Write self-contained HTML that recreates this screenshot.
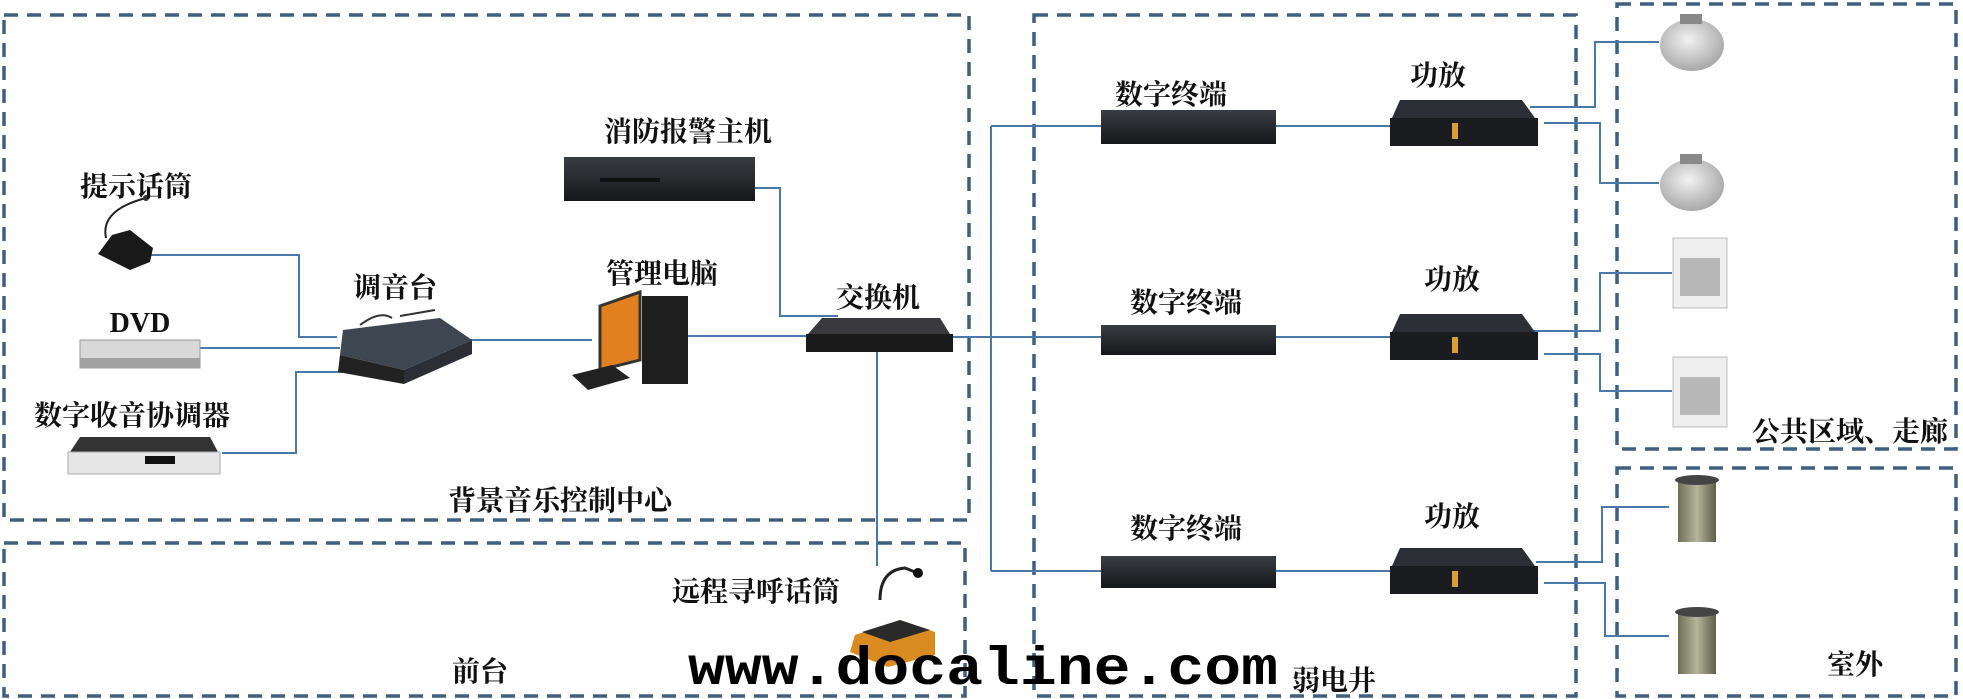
<!DOCTYPE html>
<html><head><meta charset="utf-8">
<style>
html,body{margin:0;padding:0;background:#fff;}
body{width:1963px;height:699px;overflow:hidden;position:relative;}
svg{position:absolute;left:0;top:0;}
.t{font-family:"Liberation Serif","Noto Serif CJK SC",serif;font-weight:bold;font-size:28px;fill:#111;}
.wm{font-family:"Liberation Mono","DejaVu Sans Mono",monospace;font-weight:bold;font-size:54px;fill:#000;}
</style></head><body>
<svg width="1963" height="699" viewBox="0 0 1963 699">
<defs>
<linearGradient id="rack" x1="0" y1="0" x2="0" y2="1"><stop offset="0" stop-color="#3a3d42"/><stop offset="1" stop-color="#15171a"/></linearGradient>
<radialGradient id="ceil" cx="0.45" cy="0.4" r="0.6"><stop offset="0" stop-color="#f2f2f2"/><stop offset="1" stop-color="#a8a8a8"/></radialGradient>
<linearGradient id="col" x1="0" y1="0" x2="1" y2="0"><stop offset="0" stop-color="#6f6f58"/><stop offset="0.5" stop-color="#b4b49a"/><stop offset="1" stop-color="#5e5e4a"/></linearGradient>
</defs>
<g fill="none" stroke="#3f5f7f" stroke-width="3.5" stroke-dasharray="14,9">
<rect x="4" y="15" width="965" height="505"/>
<rect x="4" y="543" width="961" height="153"/>
<rect x="1034" y="15" width="542" height="681"/>
<rect x="1617" y="4" width="339" height="445"/>
<rect x="1617" y="468" width="339" height="228"/>
</g>
<g fill="none" stroke="#4a78a8" stroke-width="2">
<polyline points="150,255 299,255 299,337 337,337"/>
<polyline points="200,348 340,348"/>
<polyline points="222,453 296,453 296,372 370,372"/>
<polyline points="470,340 592,340"/>
<polyline points="688,336 811,336"/>
<polyline points="755,188 780,188 780,316 838,316"/>
<polyline points="948,337 991,337"/>
<polyline points="991,126 991,571"/>
<polyline points="991,126 1392,126"/>
<polyline points="991,337 1392,337"/>
<polyline points="991,571 1392,571"/>
<polyline points="877,352 877,566"/>
<polyline points="1530,107 1595,107 1595,42 1659,42"/>
<polyline points="1544,123 1600,123 1600,183 1659,183"/>
<polyline points="1530,331 1600,331 1600,273 1672,273"/>
<polyline points="1544,354 1600,354 1600,391 1672,391"/>
<polyline points="1536,562 1602,562 1602,507 1669,507"/>
<polyline points="1544,583 1605,583 1605,636 1669,636"/>
</g>
<path d="M112,235 L130,230 L153,248 L150,262 L130,270 L98,254 Z" fill="#1a1a1a"/>
<path d="M106,238 Q100,210 146,198" stroke="#222" stroke-width="2" fill="none"/>
<circle cx="146" cy="198" r="3" fill="#333"/>
<rect x="80" y="340" width="120" height="28" fill="#d8d8d8" stroke="#999"/>
<rect x="80" y="358" width="120" height="10" fill="#a0a0a0"/>
<polygon points="80,437 210,437 218,452 70,452" fill="#333"/>
<rect x="68" y="452" width="152" height="22" fill="#e6e6e6" stroke="#aaa"/>
<rect x="145" y="456" width="30" height="8" fill="#111"/>
<polygon points="343,330 440,318 472,340 404,370 340,355" fill="#3e4652"/>
<polygon points="340,355 404,370 404,384 338,372" fill="#222"/>
<polygon points="404,370 472,340 472,354 404,384" fill="#2b2f35"/>
<path d="M360,325 Q380,310 392,318 M400,316 L435,310" stroke="#333" stroke-width="2" fill="none"/>
<polygon points="600,306 640,292 640,360 600,370" fill="#e0801e" stroke="#333" stroke-width="3"/>
<rect x="642" y="296" width="46" height="88" fill="#1e1e1e"/>
<polygon points="572,375 612,365 630,378 588,390" fill="#222"/>
<rect x="564" y="157" width="191" height="44" fill="url(#rack)"/>
<rect x="600" y="178" width="60" height="4" fill="#111"/>
<polygon points="822,318 940,318 950,334 808,334" fill="#3a3a3e"/>
<rect x="806" y="334" width="147" height="18" fill="#1a1a1a"/>
<path d="M880,600 Q880,570 905,568 L915,572" stroke="#222" stroke-width="3" fill="none"/>
<circle cx="918" cy="573" r="5" fill="#111"/>
<polygon points="855,635 900,620 935,632 935,655 888,667 850,652" fill="#d98a20"/>
<polygon points="862,632 900,620 930,630 890,642" fill="#2a2a2a"/>
<g fill="url(#rack)">
<rect x="1101" y="110" width="175" height="34"/>
<rect x="1101" y="325" width="175" height="30"/>
<rect x="1101" y="556" width="175" height="32"/>
</g>
<g>
<polygon points="1400,100 1522,100 1535,118 1392,118" fill="#2c3036"/>
<rect x="1390" y="118" width="148" height="28" fill="#1a1c20"/>
<polygon points="1400,314 1522,314 1535,332 1392,332" fill="#2c3036"/>
<rect x="1390" y="332" width="148" height="28" fill="#1a1c20"/>
<polygon points="1400,548 1522,548 1535,566 1392,566" fill="#2c3036"/>
<rect x="1390" y="566" width="148" height="28" fill="#1a1c20"/>
<rect x="1452" y="123" width="6" height="16" fill="#d8a030"/>
<rect x="1452" y="337" width="6" height="16" fill="#d8a030"/>
<rect x="1452" y="571" width="6" height="16" fill="#d8a030"/>
</g>
<ellipse cx="1692" cy="45" rx="32" ry="26" fill="url(#ceil)"/>
<rect x="1680" y="14" width="22" height="10" fill="#888"/>
<ellipse cx="1692" cy="185" rx="32" ry="26" fill="url(#ceil)"/>
<rect x="1680" y="154" width="22" height="10" fill="#888"/>
<rect x="1673" y="238" width="54" height="70" fill="#eeeeee" stroke="#bbb"/>
<rect x="1680" y="258" width="40" height="38" fill="#b8b8b8"/>
<rect x="1673" y="357" width="54" height="70" fill="#eeeeee" stroke="#bbb"/>
<rect x="1680" y="377" width="40" height="38" fill="#b8b8b8"/>
<rect x="1678" y="480" width="38" height="62" fill="url(#col)"/>
<ellipse cx="1697" cy="480" rx="22" ry="5" fill="#444"/>
<rect x="1678" y="612" width="38" height="62" fill="url(#col)"/>
<ellipse cx="1697" cy="612" rx="22" ry="5" fill="#444"/>
<text class="t" x="136" y="196" text-anchor="middle">提示话筒</text>
<text class="t" x="140" y="332" text-anchor="middle">DVD</text>
<text class="t" x="132" y="425" text-anchor="middle">数字收音协调器</text>
<text class="t" x="395" y="297" text-anchor="middle">调音台</text>
<text class="t" x="662" y="283" text-anchor="middle">管理电脑</text>
<text class="t" x="688" y="141" text-anchor="middle">消防报警主机</text>
<text class="t" x="878" y="307" text-anchor="middle">交换机</text>
<text class="t" x="560" y="510" text-anchor="middle">背景音乐控制中心</text>
<text class="t" x="756" y="601" text-anchor="middle">远程寻呼话筒</text>
<text class="t" x="480" y="681" text-anchor="middle">前台</text>
<text class="wm" x="688" y="684" textLength="590" lengthAdjust="spacingAndGlyphs">www.docaline.com</text>
<text class="t" x="1334" y="690" text-anchor="middle">弱电井</text>
<text class="t" x="1171" y="104" text-anchor="middle">数字终端</text>
<text class="t" x="1186" y="312" text-anchor="middle">数字终端</text>
<text class="t" x="1186" y="538" text-anchor="middle">数字终端</text>
<text class="t" x="1438" y="85" text-anchor="middle">功放</text>
<text class="t" x="1452" y="289" text-anchor="middle">功放</text>
<text class="t" x="1452" y="526" text-anchor="middle">功放</text>
<text class="t" x="1850" y="441" text-anchor="middle">公共区域、走廊</text>
<text class="t" x="1855" y="674" text-anchor="middle">室外</text>
</svg>
</body></html>
